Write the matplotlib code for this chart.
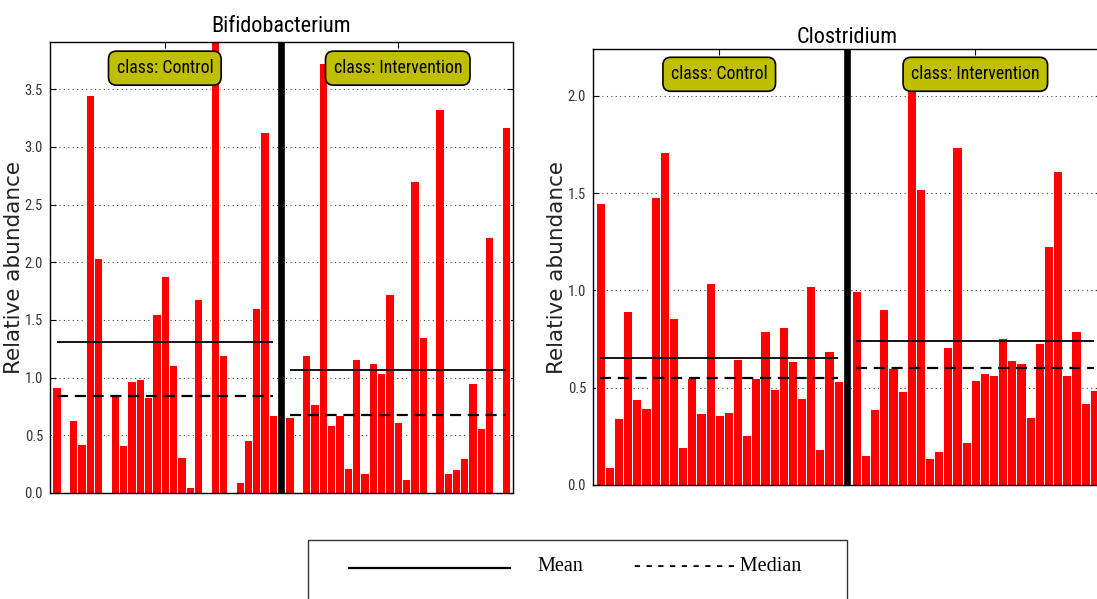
import numpy as np
import matplotlib
matplotlib.use('Agg')
import matplotlib.pyplot as plt
import matplotlib.transforms as mtransforms
from matplotlib import font_manager as fm
from matplotlib.patches import Rectangle
from matplotlib.lines import Line2D

# relative abundance per sample, one list per taxon and class
bifido_control = [0.92, 0.0, 0.63, 0.425, 3.45, 2.04, 0.0, 0.845, 0.417, 0.975,
                  0.99, 0.833, 1.556, 1.877, 1.11, 0.31, 0.05, 1.686, 0.0, 10.0,
                  1.20, 0.005, 0.093, 0.457, 1.60, 3.13, 0.677]
bifido_intervention = [0.657, 0.0, 1.198, 0.772, 3.726, 0.59, 0.677, 0.214, 1.163,
                       0.174, 1.128, 1.041, 1.721, 0.616, 0.119, 2.708, 1.354, 0.0,
                       3.332, 0.174, 0.205, 0.30, 0.955, 0.564, 2.219, 0.0, 3.176]
clostri_control = [1.447, 0.094, 0.344, 0.892, 0.443, 0.394, 1.479, 1.712, 0.856,
                   0.193, 0.551, 0.368, 1.036, 0.358, 0.377, 0.649, 0.259, 0.550,
                   0.791, 0.493, 0.812, 0.637, 0.449, 1.021, 0.183, 0.687, 0.533]
clostri_intervention = [0.997, 0.154, 0.389, 0.902, 0.599, 0.483, 2.11, 1.521, 0.137,
                        0.175, 0.707, 1.735, 0.219, 0.539, 0.574, 0.563, 0.753, 0.642,
                        0.628, 0.348, 0.728, 1.226, 1.613, 0.567, 0.791, 0.423, 0.488]
class_names = ['Control', 'Intervention']

# pick a narrow face for titles / ticks if one is installed
_names = {f.name for f in fm.fontManager.ttflist}
_cond = {f.name for f in fm.fontManager.ttflist if f.stretch == 'condensed'}
NARROW = dict(family='DejaVu Sans', stretch='normal')
for cand in ['Liberation Sans Narrow', 'Roboto Condensed', 'Open Sans Condensed']:
    if cand in _names:
        NARROW = dict(family=cand, stretch='normal')
        break
else:
    for cand in ['DejaVu Sans', 'Open Sans', 'Roboto', 'Noto Sans']:
        if cand in _cond:
            NARROW = dict(family=cand, stretch='condensed')
            break


def draw_panel(ax, title, control, intervention, ymax, title_pad):
    n1 = len(control)
    sep = n1                       # one empty slot holds the class divider
    x1 = np.arange(n1)
    x2 = np.arange(len(intervention)) + sep + 1

    ax.bar(x1, control, width=1.0, color='red', edgecolor='white', linewidth=0.7, zorder=2)
    ax.bar(x2, intervention, width=1.0, color='red', edgecolor='white', linewidth=0.7, zorder=2)
    ax.axvline(sep, color='black', linewidth=4.8, zorder=4)

    # mean (solid) and median (dashed) for each class
    for xs, vals in [(x1, control), (x2, intervention)]:
        ax.hlines(np.mean(vals), xs[0], xs[-1], colors='black', linewidth=1.3, zorder=3)
        ax.hlines(np.median(vals), xs[0], xs[-1], colors='black', linewidth=1.6,
                  linestyles=(0, (5, 3)), zorder=3)

    trans = mtransforms.blended_transform_factory(ax.transData, ax.transAxes)
    for xs, name in [(x1, class_names[0]), (x2, class_names[1])]:
        ax.text(xs.mean(), 0.942, 'class: ' + name, transform=trans, ha='center', va='center',
                fontsize=12.8, zorder=6, **NARROW,
                bbox=dict(boxstyle='round,pad=0.45', fc='#BFBF00', ec='black', lw=1.2))

    ax.set_xlim(-0.8, x2[-1] + 0.85)
    ax.set_ylim(0, ymax)
    ax.set_yticks(np.arange(0, ymax, 0.5))
    ax.set_yticklabels(['%.1f' % v for v in np.arange(0, ymax, 0.5)], **NARROW)
    ax.set_xticks([x1.mean(), x2.mean()])
    ax.set_xticklabels([])
    ax.tick_params(direction='in', length=4, top=True, right=True,
                   labelsize=10.5, labelcolor='#333333', pad=5)
    ax.yaxis.grid(True, linestyle=(0, (1, 3)), color='#444444', linewidth=0.8)
    ax.set_axisbelow(True)
    for sp in ax.spines.values():
        sp.set_linewidth(1.0)

    ax.set_title(title, fontsize=16, pad=title_pad, **NARROW)
    ax.set_ylabel('Relative abundance', fontsize=15.5, color='#222222', va='center',
                  family='DejaVu Sans')


fig = plt.figure(figsize=(10.97, 5.99), dpi=100, facecolor='white')
W, H = 1097.0, 599.0

ax1 = fig.add_axes([50 / W, 1 - 493 / H, 463 / W, 451 / H])
draw_panel(ax1, 'Bifidobacterium', bifido_control, bifido_intervention, 3.91, 7)
ax1.yaxis.set_label_coords(-0.078, 0.5)

ax2 = fig.add_axes([593 / W, 1 - 485 / H, 509 / W, 436 / H])
draw_panel(ax2, 'Clostridium', clostri_control, clostri_intervention, 2.24, 4.5)
ax2.yaxis.set_label_coords(-0.07, 0.5)

# key box under the panels
fig.patches.append(Rectangle((308 / W, -0.1), 539 / W, 0.1 + 1 - 540 / H,
                             transform=fig.transFigure, fill=False,
                             edgecolor='#333333', linewidth=1.0))
fig.lines.append(Line2D([349 / W, 510 / W], [1 - 568 / H] * 2, transform=fig.transFigure,
                        color='black', linewidth=1.6))
fig.text(537 / W, 1 - 571 / H, 'Mean', family='Liberation Serif', fontsize=14.5,
         va='baseline', ha='left')
fig.text(634 / W, 1 - 571 / H, '- - - - - - - - - Median', family='Liberation Serif',
         fontsize=14.5, va='baseline', ha='left')

fig.savefig('out.png', dpi=100, facecolor='white')
